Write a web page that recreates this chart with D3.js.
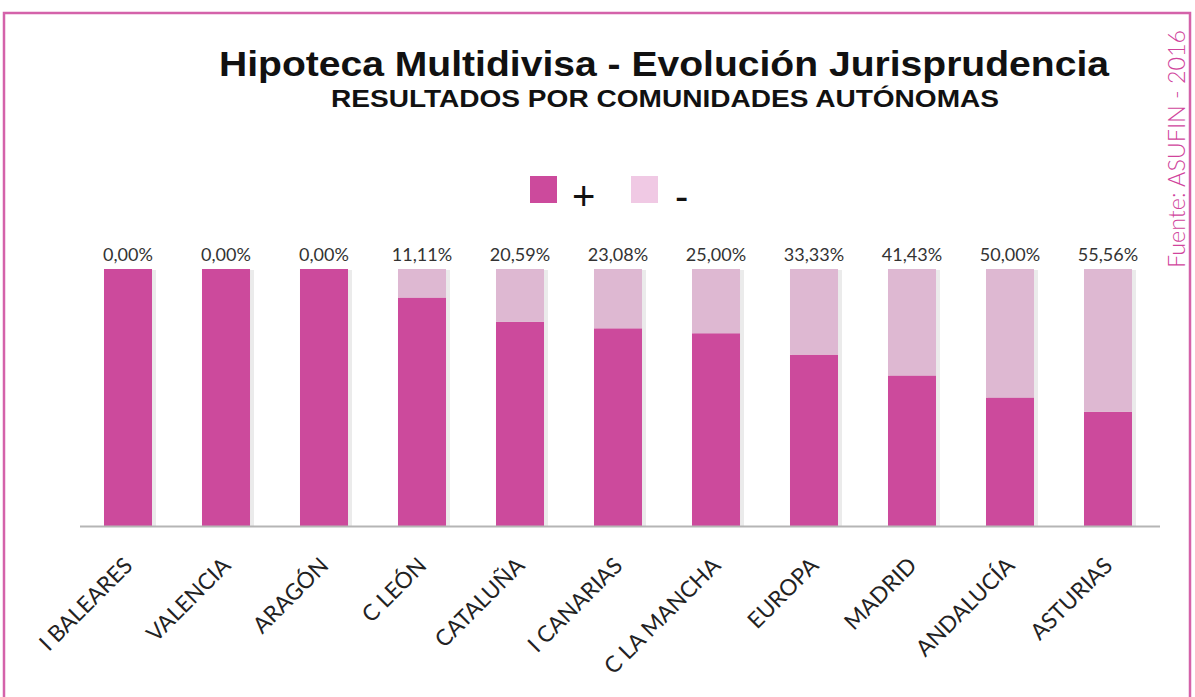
<!DOCTYPE html>
<html>
<head>
<meta charset="utf-8">
<script src="https://cdn.jsdelivr.net/npm/d3@7"></script>
<style>
  body { margin: 0; background: #fff; }
  svg { display: block; }
</style>
</head>
<body>
<svg id="chart" width="1195" height="697"></svg>
<script>
const categories = ["I BALEARES", "VALENCIA", "ARAGÓN", "C LEÓN", "CATALUÑA", "I CANARIAS",
  "C LA MANCHA", "EUROPA", "MADRID", "ANDALUCÍA", "ASTURIAS"];
// share of "-" results, percent
const negValues = [0, 0, 0, 11.11, 20.59, 23.08, 25.00, 33.33, 41.43, 50.00, 55.56];
const posValues = negValues.map(v => 100 - v);
const seriesNames = ["+", "-"];

const svg = d3.select("#chart");
const dark = "#cc4a9c";
const light = "#deb8d2";

// Frame
svg.append("path")
  .attr("d", "M4,697 V13 H1190 V697")
  .attr("fill", "none")
  .attr("stroke", "#d462aa")
  .attr("stroke-width", 2.5);

// Titles (source image is slightly stretched horizontally)
svg.append("text")
  .attr("x", 664).attr("y", 76)
  .attr("text-anchor", "middle")
  .attr("font-family", "Liberation Sans, Arial, sans-serif")
  .attr("font-weight", "bold")
  .attr("font-size", 35)
  .attr("textLength", 890)
  .attr("lengthAdjust", "spacingAndGlyphs")
  .attr("fill", "#111")
  .text("Hipoteca Multidivisa - Evolución Jurisprudencia");

svg.append("text")
  .attr("x", 665).attr("y", 107)
  .attr("text-anchor", "middle")
  .attr("font-family", "Liberation Sans, Arial, sans-serif")
  .attr("font-weight", "bold")
  .attr("font-size", 24)
  .attr("textLength", 668)
  .attr("lengthAdjust", "spacingAndGlyphs")
  .attr("fill", "#111")
  .text("RESULTADOS POR COMUNIDADES AUTÓNOMAS");

// Source, vertical
svg.append("text")
  .attr("transform", "translate(1185,149) rotate(-90)")
  .attr("text-anchor", "middle")
  .attr("font-family", "Lato, sans-serif")
  .attr("font-weight", 300)
  .attr("font-size", 23)
  .attr("textLength", 238)
  .attr("lengthAdjust", "spacingAndGlyphs")
  .attr("fill", "#d0449c")
  .text("Fuente: ASUFIN - 2016");

// Legend
const legend = svg.append("g");
const legendX = [530, 631];
legend.selectAll("rect")
  .data(seriesNames)
  .enter().append("rect")
  .attr("x", (d, i) => legendX[i])
  .attr("y", 176)
  .attr("width", 27).attr("height", 27)
  .attr("fill", (d, i) => i === 0 ? dark : "#f0c9e4");
legend.selectAll("text")
  .data(seriesNames)
  .enter().append("text")
  .attr("x", (d, i) => legendX[i] + (i === 0 ? 42 : 44))
  .attr("y", 210)
  .attr("font-family", "Liberation Sans, Arial, sans-serif")
  .attr("font-size", 40)
  .attr("fill", "#111")
  .text(d => d);

// Scales
const x = d3.scaleBand()
  .domain(categories)
  .range([79, 1157])
  .paddingInner(0.51)
  .paddingOuter(0.255);
const y = d3.scaleLinear()
  .domain([0, 100])
  .range([526, 269]);

const rows = categories.map((c, i) => ({ cat: c, pos: posValues[i], neg: negValues[i] }));
const stack = d3.stack().keys(["pos", "neg"])(rows);

// Bar shadows
svg.append("g").selectAll("rect")
  .data(rows)
  .enter().append("rect")
  .attr("x", d => x(d.cat) + 2)
  .attr("y", y(100) + 1)
  .attr("width", x.bandwidth() + 2)
  .attr("height", y(0) - y(100) - 1)
  .attr("fill", "#ebebeb");

svg.append("g").selectAll("g")
  .data(stack)
  .enter().append("g")
  .attr("fill", (d, i) => i === 0 ? dark : light)
  .selectAll("rect")
  .data(d => d)
  .enter().append("rect")
  .attr("x", d => x(d.data.cat))
  .attr("y", d => y(d[1]))
  .attr("width", x.bandwidth())
  .attr("height", d => y(d[0]) - y(d[1]));

// Axis
const xAxis = d3.axisBottom(x).tickSize(0).tickPadding(0);
const axisG = svg.append("g")
  .attr("transform", "translate(0,526)")
  .call(xAxis);
axisG.select(".domain")
  .attr("stroke", "#b5b5b5")
  .attr("stroke-width", 2)
  .attr("d", "M80,0.5H1160");
axisG.selectAll(".tick text")
  .attr("font-family", "Lato, sans-serif")
  .attr("font-size", 22.5)
  .attr("fill", "#222")
  .attr("text-anchor", "end")
  .attr("dy", null)
  .attr("transform", "translate(6,41) rotate(-45)");

// Value labels
svg.append("g").selectAll("text")
  .data(rows)
  .enter().append("text")
  .attr("x", d => x(d.cat) + x.bandwidth() / 2)
  .attr("y", 261)
  .attr("text-anchor", "middle")
  .attr("font-family", "Lato, sans-serif")
  .attr("font-size", 18)
  .attr("fill", "#333")
  .text(d => d3.format(".2f")(d.neg).replace(".", ",") + "%");
</script>
</body>
</html>
